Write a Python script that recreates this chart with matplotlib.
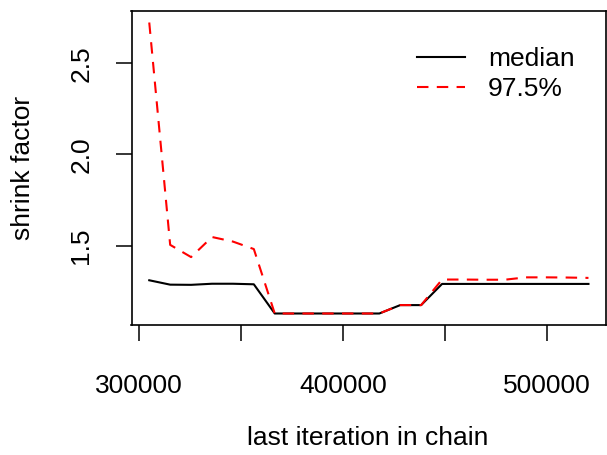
import matplotlib
matplotlib.use("Agg")
import matplotlib.pyplot as plt

plt.rcParams['font.family'] = ['Liberation Sans', 'DejaVu Sans']

iterations = [305000, 315250, 325500, 335750, 346000, 356250, 366500, 376750,
              387000, 397250, 407500, 417750, 428000, 438250, 448500, 458750,
              469000, 479250, 489500, 499750, 510000, 520250]
median = [1.311, 1.287, 1.286, 1.292, 1.292, 1.289, 1.129, 1.129, 1.129, 1.129,
          1.129, 1.129, 1.175, 1.175, 1.291, 1.291, 1.291, 1.291, 1.291, 1.291,
          1.291, 1.291]
q975 = [2.723, 1.505, 1.438, 1.548, 1.523, 1.482, 1.129, 1.129, 1.129, 1.129,
        1.129, 1.129, 1.175, 1.175, 1.315, 1.315, 1.314, 1.314, 1.327, 1.327,
        1.326, 1.324]
xticks = [300000, 350000, 400000, 450000, 500000]
xticklabels = ["300000", "", "400000", "", "500000"]
yticks = [1.5, 2.0, 2.5]
yticklabels = ["1.5", "2.0", "2.5"]

W, H = 607, 455
fig = plt.figure(figsize=(W / 100, H / 100), dpi=100)
l, r, t, b = 131.5, 605.5, 11, 325
ax = fig.add_axes([l / W, 1 - b / H, (r - l) / W, (b - t) / H])

ax.plot(iterations, median, color='black', lw=1.5, label='median')
ax.plot(iterations, q975, color='red', lw=1.5, linestyle=(0, (5.5, 4)), label='97.5%')

ax.set_xlim(296300, 528600)
ax.set_ylim(1.066, 2.786)
ax.set_xticks(xticks)
ax.set_xticklabels(xticklabels)
ax.set_yticks(yticks)
ax.set_yticklabels(yticklabels)

fs = 19
ax.tick_params(axis='both', direction='out', length=11.4, width=1.1, labelsize=fs, colors='black')
ax.tick_params(axis='x', pad=24)
ax.tick_params(axis='y', pad=16)
plt.setp(ax.get_yticklabels(), rotation=90, va='center')
for s in ax.spines.values():
    s.set_linewidth(1.2)

ax.set_xlabel('last iteration in chain', fontsize=fs)
ax.set_ylabel('shrink factor', fontsize=fs)
ax.xaxis.set_label_coords((368 - l) / (r - l), (b - 438) / (b - t))
ax.xaxis.label.set_va('center')
ax.yaxis.set_label_coords((23 - l) / (r - l), (b - 168) / (b - t))
ax.yaxis.label.set_va('center')

ax.legend(loc='upper left', bbox_to_anchor=((416.7 - l) / (r - l), (b - 47) / (b - t)),
          frameon=False, fontsize=fs, handlelength=1.83, handletextpad=0.87,
          labelspacing=0.24, borderpad=0, borderaxespad=0)

fig.savefig('out.png', dpi=100)
